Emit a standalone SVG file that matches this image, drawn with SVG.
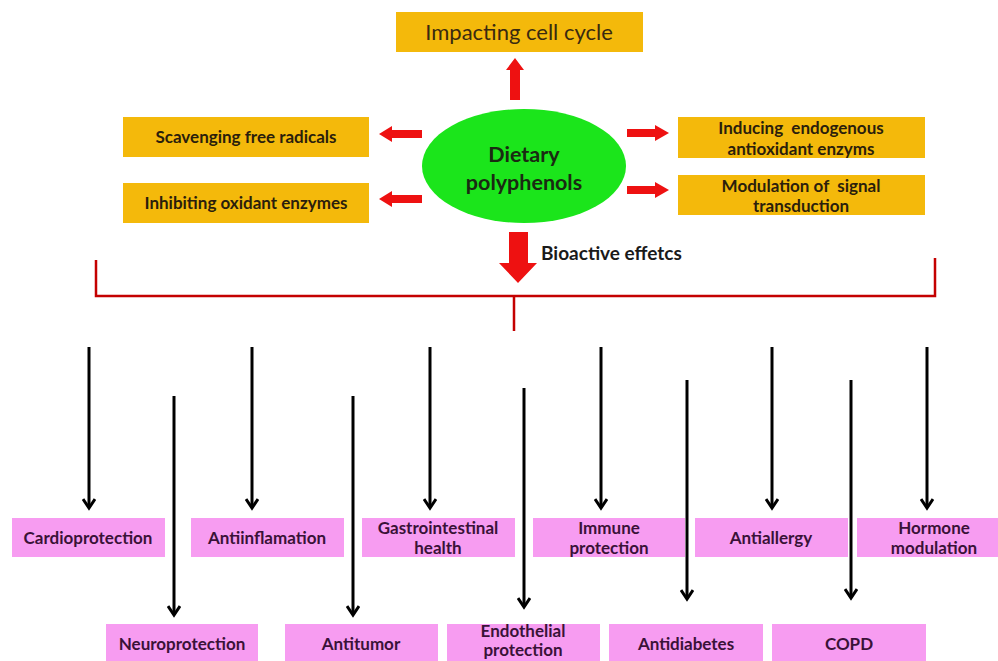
<svg xmlns="http://www.w3.org/2000/svg" width="998" height="661" viewBox="0 0 998 661">
  <style>
    .gold { fill: #F4B90B; }
    .pink { fill: #F79CF1; }
    .goldtxt { font-family: Lato, "Open Sans", "Liberation Sans", sans-serif; font-weight: bold; font-size: 17px; fill: #2B1E0C; text-anchor: middle; }
    .pinktxt { font-family: Lato, "Open Sans", "Liberation Sans", sans-serif; font-weight: bold; font-size: 17px; fill: #3A1238; text-anchor: middle; }
    .red { fill: #EE1111; }
    .blk { stroke: #000; stroke-width: 3; fill: none; marker-end: url(#vhead); }
  </style>
  <defs>
    <marker id="vhead" markerUnits="userSpaceOnUse" markerWidth="16" markerHeight="14" refX="12" refY="7" orient="auto">
      <polyline points="3,1 12,7 3,13" fill="none" stroke="#000" stroke-width="3"/>
    </marker>
  </defs>
  <rect width="998" height="661" fill="#fff"/>

  <!-- connectors -->
  <g id="connectors">
    <!-- red block arrows out of the ellipse -->
    <polygon class="red" points="510,100 510,70 506,70 515,58 524,70 520,70 520,100"/>
    <polygon class="red" points="422,130 392,130 392,126 379,134 392,142 392,138 422,138"/>
    <polygon class="red" points="422,195 392,195 392,191 379,199 392,207 392,203 422,203"/>
    <polygon class="red" points="627,129 655,129 655,125 669,133 655,141 655,137 627,137"/>
    <polygon class="red" points="627,186 655,186 655,182 669,190 655,198 655,194 627,194"/>
    <polygon class="red" points="509,232 528,232 528,263 537,263 518,283 499,263 509,263"/>
    <!-- bracket -->
    <path d="M96 260 V296 H935 V258 M514 296 V331" fill="none" stroke="#C40000" stroke-width="2.5"/>
    <!-- black arrows, upper row -->
    <line class="blk" x1="89" y1="347" x2="89" y2="508"/>
    <line class="blk" x1="252" y1="347" x2="252" y2="508"/>
    <line class="blk" x1="430" y1="347" x2="430" y2="508"/>
    <line class="blk" x1="601" y1="347" x2="601" y2="508"/>
    <line class="blk" x1="772" y1="347" x2="772" y2="508"/>
    <line class="blk" x1="927" y1="347" x2="927" y2="508"/>
    <!-- black arrows, lower row -->
    <line class="blk" x1="174" y1="396" x2="174" y2="615"/>
    <line class="blk" x1="353" y1="396" x2="353" y2="615"/>
    <line class="blk" x1="524" y1="388" x2="524" y2="607"/>
    <line class="blk" x1="687" y1="380" x2="687" y2="599"/>
    <line class="blk" x1="851" y1="380" x2="851" y2="598"/>
  </g>

  <g id="dietary-polyphenols">
    <ellipse cx="524" cy="166" rx="102" ry="57" fill="#1BE51B"/>
    <text x="524" y="162" font-family="Lato, 'Open Sans', 'Liberation Sans', sans-serif" font-size="21.5" font-weight="bold" fill="#1A2A12" text-anchor="middle">Dietary</text>
    <text x="524" y="190" font-family="Lato, 'Open Sans', 'Liberation Sans', sans-serif" font-size="21.5" font-weight="bold" fill="#1A2A12" text-anchor="middle">polyphenols</text>
  </g>

  <g id="impacting-cell-cycle">
    <rect class="gold" x="396" y="12" width="247" height="40"/>
    <text x="519" y="40" font-family="Lato, 'Open Sans', 'Liberation Sans', sans-serif" font-size="22" fill="#3A2A10" text-anchor="middle">Impacting cell cycle</text>
  </g>

  <g id="scavenging">
    <rect class="gold" x="123" y="117" width="246" height="40"/>
    <text class="goldtxt" x="246" y="143">Scavenging free radicals</text>
  </g>

  <g id="inhibiting">
    <rect class="gold" x="123" y="183" width="246" height="40"/>
    <text class="goldtxt" x="246" y="209">Inhibiting oxidant enzymes</text>
  </g>

  <g id="inducing">
    <rect class="gold" x="678" y="117" width="247" height="41"/>
    <text class="goldtxt" x="801" y="134" xml:space="preserve">Inducing  endogenous</text>
    <text class="goldtxt" x="801" y="155">antioxidant enzyms</text>
  </g>

  <g id="modulation">
    <rect class="gold" x="678" y="175" width="247" height="40"/>
    <text class="goldtxt" x="801" y="192" xml:space="preserve">Modulation of  signal</text>
    <text class="goldtxt" x="801" y="212">transduction</text>
  </g>

  <g id="bioactive-label">
    <text x="541" y="260" font-family="Lato, 'Open Sans', 'Liberation Sans', sans-serif" font-size="19" font-weight="bold" fill="#1A1A1A">Bioactive effetcs</text>
  </g>

  <!-- upper row of effects -->
  <g id="cardioprotection">
    <rect class="pink" x="12" y="518" width="153" height="39"/>
    <text class="pinktxt" x="88" y="544">Cardioprotection</text>
  </g>
  <g id="antiinflamation">
    <rect class="pink" x="191" y="518" width="153" height="39"/>
    <text class="pinktxt" x="267" y="544">Antiinflamation</text>
  </g>
  <g id="gastrointestinal">
    <rect class="pink" x="362" y="518" width="153" height="39"/>
    <text class="pinktxt" x="438" y="534">Gastrointestinal</text>
    <text class="pinktxt" x="438" y="554">health</text>
  </g>
  <g id="immune">
    <rect class="pink" x="533" y="518" width="152" height="39"/>
    <text class="pinktxt" x="609" y="534">Immune</text>
    <text class="pinktxt" x="609" y="554">protection</text>
  </g>
  <g id="antiallergy">
    <rect class="pink" x="695" y="518" width="153" height="39"/>
    <text class="pinktxt" x="771" y="544">Antiallergy</text>
  </g>
  <g id="hormone">
    <rect class="pink" x="857" y="518" width="141" height="39"/>
    <text class="pinktxt" x="934" y="534">Hormone</text>
    <text class="pinktxt" x="934" y="554">modulation</text>
  </g>

  <!-- lower row of effects -->
  <g id="neuroprotection">
    <rect class="pink" x="106" y="624" width="152" height="40"/>
    <text class="pinktxt" x="182" y="650">Neuroprotection</text>
  </g>
  <g id="antitumor">
    <rect class="pink" x="285" y="624" width="153" height="40"/>
    <text class="pinktxt" x="361" y="650">Antitumor</text>
  </g>
  <g id="endothelial">
    <rect class="pink" x="447" y="624" width="153" height="40"/>
    <text class="pinktxt" x="523" y="637" font-size="16">Endothelial</text>
    <text class="pinktxt" x="523" y="656" font-size="16">protection</text>
  </g>
  <g id="antidiabetes">
    <rect class="pink" x="609" y="624" width="154" height="40"/>
    <text class="pinktxt" x="686" y="650">Antidiabetes</text>
  </g>
  <g id="copd">
    <rect class="pink" x="772" y="624" width="154" height="40"/>
    <text class="pinktxt" x="849" y="650">COPD</text>
  </g>
</svg>
